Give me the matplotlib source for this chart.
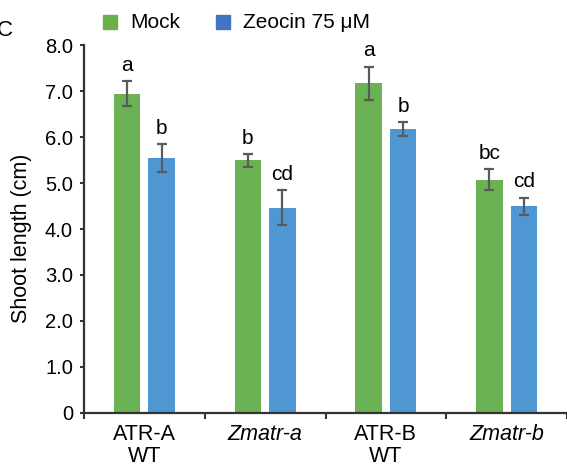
import matplotlib
matplotlib.use('Agg')
import matplotlib.pyplot as plt
from matplotlib.patches import Rectangle
import numpy as np

plt.rcParams['font.family'] = ['Liberation Sans', 'DejaVu Sans']

# datos
genotipos = ['ATR-A\nWT', 'Zmatr-a', 'ATR-B\nWT', 'Zmatr-b']
italica = [False, True, False, True]
mock = [6.94, 5.49, 7.17, 5.07]
mock_err = [0.27, 0.135, 0.36, 0.23]
zeocin = [5.54, 4.46, 6.17, 4.49]
zeocin_err = [0.30, 0.38, 0.15, 0.19]
letras_mock = ['a', 'b', 'a', 'bc']
letras_zeo = ['b', 'cd', 'b', 'cd']
series = ['Mock', 'Zeocin 75 μM']

verde = '#6ab254'
azul = '#4f97d3'
verde_ley = '#6ab04c'
azul_ley = '#4472c4'

W, H = 567, 467
fig = plt.figure(figsize=(W/100, H/100), dpi=100)
# ejes: borde izq en x=84 px, y=0 en 413 px, y=8 en 45 px
ax = fig.add_axes([84/W, 1 - 413/H, 1 - 84/W, (413 - 45)/H])

x = np.arange(len(genotipos))
ancho = 0.22
desp = 0.143
err_kw = dict(ecolor='#5a5a5a', elinewidth=1.6, capsize=3.5, capthick=1.6)

ax.bar(x - desp, mock, ancho, color=verde, yerr=mock_err, error_kw=err_kw, zorder=2)
ax.bar(x + desp, zeocin, ancho, color=azul, yerr=zeocin_err, error_kw=err_kw, zorder=2)

# letras de significancia
for i in range(len(x)):
    ax.text(x[i] - desp, mock[i] + mock_err[i] + 0.23, letras_mock[i],
            ha='center', va='baseline', fontsize=15)
    ax.text(x[i] + desp, zeocin[i] + zeocin_err[i] + 0.23, letras_zeo[i],
            ha='center', va='baseline', fontsize=15)

ax.set_xlim(-0.5, 3.5)
ax.set_ylim(0, 8)
ax.set_yticks(np.arange(0, 9))
ax.set_yticklabels(['0'] + ['%.1f' % v for v in range(1, 9)], fontsize=14.5)
ax.set_ylabel('Shoot length (cm)', fontsize=15.5)
ax.yaxis.set_label_coords(-0.108, 0.475)

ax.set_xticks(np.arange(-0.5, 4, 1))
ax.set_xticklabels([])
ax.set_xticks(x, minor=True)
ax.set_xticklabels(genotipos, minor=True, fontsize=15.5, linespacing=1.05)
for lab, it in zip(ax.get_xticklabels(minor=True), italica):
    if it:
        lab.set_fontstyle('italic')
ax.tick_params(axis='x', which='minor', length=0, pad=8)
ax.tick_params(axis='x', which='major', length=4, width=1.5, color='#333333')
ax.tick_params(axis='y', length=3, width=1.5, color='#333333', pad=5)

for s in ['top', 'right']:
    ax.spines[s].set_visible(False)
for s in ['left', 'bottom']:
    ax.spines[s].set_linewidth(1.6)
    ax.spines[s].set_color('#333333')

# leyenda manual
for xs, xt, col, lab in [(103, 130, verde_ley, series[0]), (216, 243, azul_ley, series[1])]:
    fig.patches.append(Rectangle((xs/W, 1 - 29/H), 14/W, 14/H,
                                 transform=fig.transFigure, color=col))
    fig.text(xt/W, 1 - 22/H, lab, fontsize=15, va='center', ha='left')

fig.text(-3/W, 1 - 31/H, 'C', fontsize=16, va='center', ha='left')

fig.savefig('out.png', dpi=100)
